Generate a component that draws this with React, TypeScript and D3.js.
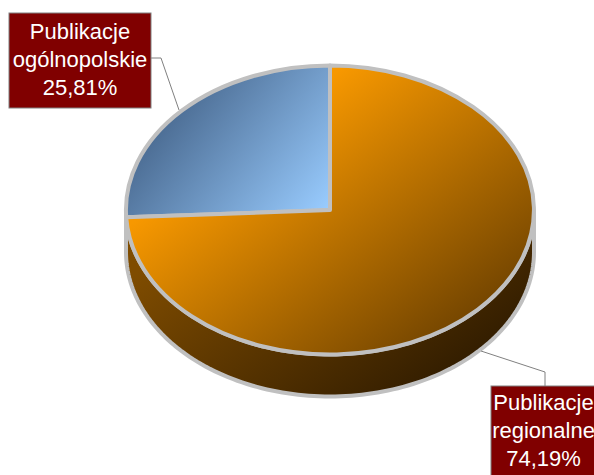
import React from "react";
import * as d3 from "d3";

const categories = ["Publikacje ogólnopolskie", "Publikacje regionalne"];
const values = [25.81, 74.19];
const labelLines = [["Publikacje", "ogólnopolskie", "25,81%"], ["Publikacje", "regionalne", "74,19%"]];

const cx = 330, cy = 210, rx = 204, ry = 144.5, depth = 42;
const stroke = "#c0c0c0";

export default function App() {
  const start = -2 * Math.PI * values[0] / 100;
  const pie = d3.pie<number>().sort(null).startAngle(start).endAngle(2 * Math.PI + start);
  const arcs = pie(values);
  const arc = d3.arc<any>().innerRadius(0).outerRadius(1);
  const sx = d3.scaleLinear().domain([-1, 1]).range([cx - rx, cx + rx]);
  const sy = d3.scaleLinear().domain([-1, 1]).range([cy - ry, cy + ry]);
  const sidePts = d3.range(0, 121).map((i) => Math.PI + (-Math.PI * i) / 120).map((a) => [sx(Math.cos(a)), sy(Math.sin(a))] as [number, number]);
  const sidePath = [...sidePts, ...sidePts.slice().reverse().map((p) => [p[0], p[1] + depth] as [number, number])];
  const line = d3.line();
  const gt = `scale(${1 / rx},${1 / ry}) translate(${-cx},${-cy})`;

  const boxes = [
    { x: 9, y: 13, w: 142, h: 95, tx: 80, base: 26 },
    { x: 491, y: 386, w: 110, h: 95, tx: 543.5, base: 24 },
  ];
  const leaders = [
    [[151, 58], [161, 58], [179, 110]],
    [[481, 351], [545, 372], [545, 386]],
  ] as [number, number][][];

  return (
    <svg width={594} height={475} style={{ position: "absolute", left: 0, top: 0, background: "#fff" }}>
      <defs>
        <linearGradient id="orange" gradientUnits="userSpaceOnUse" gradientTransform={gt} x1="235" y1="147" x2="413" y2="388">
          <stop offset="0" stopColor="#f79800" />
          <stop offset="1" stopColor="#6a3f00" />
        </linearGradient>
        <linearGradient id="blue" gradientUnits="userSpaceOnUse" gradientTransform={gt} x1="185" y1="95" x2="328" y2="210">
          <stop offset="0" stopColor="#4c6d94" />
          <stop offset="1" stopColor="#99ccff" />
        </linearGradient>
        <linearGradient id="side" gradientUnits="userSpaceOnUse" x1="235" y1="200" x2="413" y2="441">
          <stop offset="0" stopColor="#7f4c00" />
          <stop offset="1" stopColor="#2a1800" />
        </linearGradient>
      </defs>
      <path d={line(sidePath) + "Z"} fill="url(#side)" stroke={stroke} strokeWidth={4} strokeLinejoin="round" />
      <g transform={`translate(${cx},${cy}) scale(${rx},${ry})`}>
        {arcs.map((d, i) => (
          <path
            key={categories[i]}
            d={arc(d) as string}
            fill={i === 0 ? "url(#blue)" : "url(#orange)"}
            stroke={stroke}
            strokeWidth={4}
            strokeLinejoin="round"
            vectorEffect="non-scaling-stroke"
          />
        ))}
      </g>
      {leaders.map((l, i) => (
        <path key={i} d={line(l) as string} fill="none" stroke="#808080" strokeWidth={1} />
      ))}
      {boxes.map((b, i) => (
        <g key={i}>
          <rect x={b.x} y={b.y} width={b.w} height={b.h} fill="#800000" stroke="#808080" strokeWidth={1} />
          {labelLines[i].map((t, j) => (
            <text key={j} x={b.tx} y={b.y + b.base + j * 28} textAnchor="middle" fill="#fff" fontSize={22} fontFamily="'Liberation Sans', Arial, sans-serif">
              {t}
            </text>
          ))}
        </g>
      ))}
    </svg>
  );
}
